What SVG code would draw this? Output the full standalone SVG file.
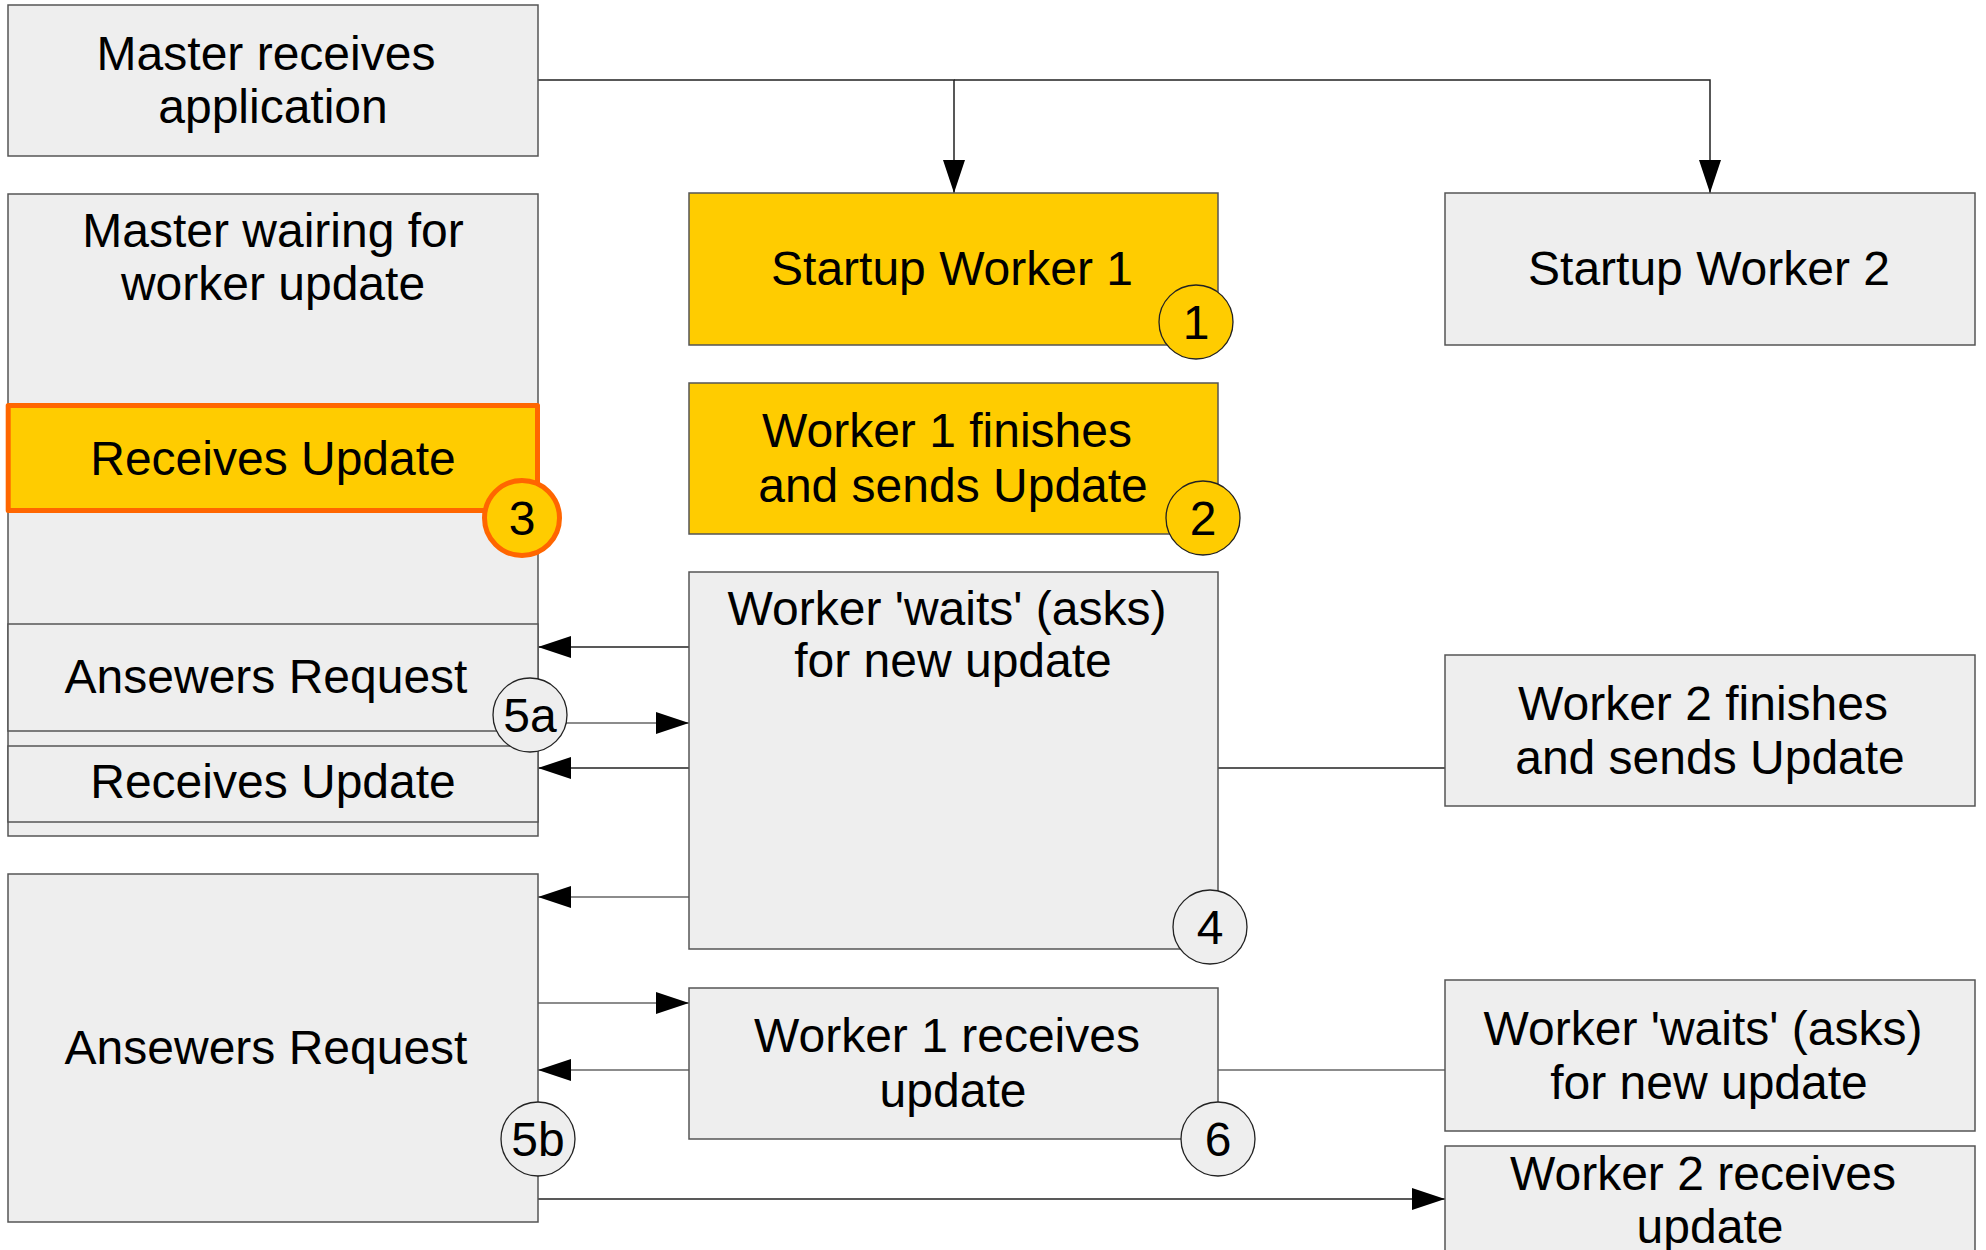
<svg xmlns="http://www.w3.org/2000/svg" width="1986" height="1250" viewBox="0 0 1986 1250">
  <defs>
    <marker id="arrow" markerUnits="userSpaceOnUse" markerWidth="34" markerHeight="24" refX="33" refY="11" orient="auto">
      <path d="M0,0 L33,11 L0,22 Z" fill="#000"/>
    </marker>
    <style>
      .box { fill: #eeeeee; stroke: #555555; stroke-width: 1.5; }
      .hot { fill: #ffcc00; stroke: #555555; stroke-width: 1.5; }
      .focus { fill: #ffcc00; stroke: #ff6600; stroke-width: 5; stroke-linejoin: round; }
      .badge { fill: #eeeeee; stroke: #222222; stroke-width: 1.3; }
      .badge-hot { fill: #ffcc00; stroke: #222222; stroke-width: 1.3; }
      .badge-focus { fill: #ffcc00; stroke: #ff6600; stroke-width: 5; }
      .label { font-family: "Liberation Sans", Arial, sans-serif; font-size: 48px; fill: #000; text-anchor: middle; }
      .link { fill: none; stroke: #222222; stroke-width: 1.5; }
      .link-soft { fill: none; stroke: #666666; stroke-width: 1.5; }
      .flow { marker-end: url(#arrow); }
    </style>
  </defs>

  <rect width="1986" height="1250" fill="#ffffff"/>

  <!-- connectors -->
  <g id="connectors">
    <!-- application fan-out to both workers -->
    <polyline class="link flow" points="538,80 954,80 954,193"/>
    <polyline class="link flow" points="954,80 1710,80 1710,193"/>
    <!-- worker 1 waiting loop against master -->
    <line class="link flow" x1="689" y1="647" x2="538" y2="647"/>
    <line class="link-soft flow" x1="538" y1="723" x2="689" y2="723"/>
    <line class="link flow" x1="689" y1="768" x2="538" y2="768"/>
    <line class="link-soft flow" x1="689" y1="897" x2="538" y2="897"/>
    <line class="link-soft flow" x1="538" y1="1003" x2="689" y2="1003"/>
    <line class="link-soft flow" x1="689" y1="1070" x2="538" y2="1070"/>
    <!-- plain timing ties to worker 2 -->
    <line class="link" x1="1218" y1="768" x2="1445" y2="768"/>
    <line class="link-soft" x1="1218" y1="1070" x2="1445" y2="1070"/>
    <!-- master answers worker 2 -->
    <line class="link flow" x1="538" y1="1199" x2="1445" y2="1199"/>
  </g>

  <!-- master column -->
  <g id="master-receives">
    <rect class="box" x="8" y="5" width="530" height="151"/>
    <text class="label" x="266" y="70">Master receives</text>
    <text class="label" x="273" y="123">application</text>
  </g>

  <g id="master-waiting">
    <rect class="box" x="8" y="194" width="530" height="642"/>
    <text class="label" x="273" y="247">Master wairing for</text>
    <text class="label" x="273" y="300">worker update</text>
  </g>

  <g id="master-receives-update-1">
    <rect class="focus" x="8.2" y="405.5" width="529.3" height="105"/>
    <text class="label" x="273" y="475">Receives Update</text>
  </g>

  <g id="master-answers-request-a">
    <rect class="box" x="8" y="624" width="530" height="107"/>
    <text class="label" x="266" y="693">Ansewers Request</text>
  </g>

  <g id="master-receives-update-2">
    <rect class="box" x="8" y="746" width="530" height="76"/>
    <text class="label" x="273" y="798">Receives Update</text>
  </g>

  <g id="master-answers-request-b">
    <rect class="box" x="8" y="874" width="530" height="348"/>
    <text class="label" x="266" y="1064">Ansewers Request</text>
  </g>

  <!-- worker 1 column -->
  <g id="startup-worker-1">
    <rect class="hot" x="689" y="193" width="529" height="152"/>
    <text class="label" x="952" y="285">Startup Worker 1</text>
  </g>

  <g id="worker-1-finishes">
    <rect class="hot" x="689" y="383" width="529" height="151"/>
    <text class="label" x="947" y="447">Worker 1 finishes</text>
    <text class="label" x="953" y="502">and sends Update</text>
  </g>

  <g id="worker-1-waits">
    <rect class="box" x="689" y="572" width="529" height="377"/>
    <text class="label" x="947" y="625">Worker 'waits' (asks)</text>
    <text class="label" x="953" y="677">for new update</text>
  </g>

  <g id="worker-1-receives">
    <rect class="box" x="689" y="988" width="529" height="151"/>
    <text class="label" x="947" y="1052">Worker 1 receives</text>
    <text class="label" x="953" y="1107">update</text>
  </g>

  <!-- worker 2 column -->
  <g id="startup-worker-2">
    <rect class="box" x="1445" y="193" width="530" height="152"/>
    <text class="label" x="1709" y="285">Startup Worker 2</text>
  </g>

  <g id="worker-2-finishes">
    <rect class="box" x="1445" y="655" width="530" height="151"/>
    <text class="label" x="1703" y="720">Worker 2 finishes</text>
    <text class="label" x="1710" y="774">and sends Update</text>
  </g>

  <g id="worker-2-waits">
    <rect class="box" x="1445" y="980" width="530" height="151"/>
    <text class="label" x="1703" y="1045">Worker 'waits' (asks)</text>
    <text class="label" x="1709" y="1099">for new update</text>
  </g>

  <g id="worker-2-receives">
    <rect class="box" x="1445" y="1146" width="530" height="151"/>
    <text class="label" x="1703" y="1190">Worker 2 receives</text>
    <text class="label" x="1710" y="1243">update</text>
  </g>

  <!-- step badges -->
  <g id="step-1">
    <circle class="badge-hot" cx="1196" cy="322" r="37"/>
    <text class="label" x="1196" y="339">1</text>
  </g>
  <g id="step-2">
    <circle class="badge-hot" cx="1203" cy="518" r="37"/>
    <text class="label" x="1203" y="535">2</text>
  </g>
  <g id="step-3">
    <circle class="badge-focus" cx="522" cy="518" r="37.5"/>
    <text class="label" x="522" y="535">3</text>
  </g>
  <g id="step-4">
    <circle class="badge" cx="1210" cy="927" r="37"/>
    <text class="label" x="1210" y="944">4</text>
  </g>
  <g id="step-5a">
    <circle class="badge" cx="530" cy="715" r="37"/>
    <text class="label" x="530" y="732">5a</text>
  </g>
  <g id="step-5b">
    <circle class="badge" cx="538" cy="1139" r="37"/>
    <text class="label" x="538" y="1156">5b</text>
  </g>
  <g id="step-6">
    <circle class="badge" cx="1218" cy="1139" r="37"/>
    <text class="label" x="1218" y="1156">6</text>
  </g>
</svg>
